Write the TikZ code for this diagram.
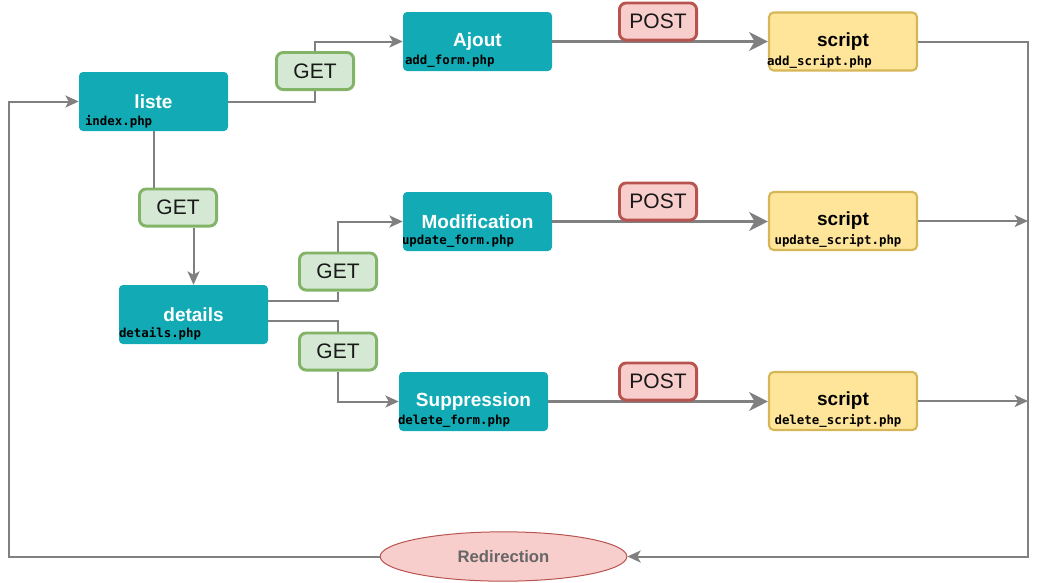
\documentclass[tikz,border=0pt]{standalone}
\usepackage{fontspec}
\setmainfont{Liberation Sans}
\newfontfamily\codefont{DejaVu Sans Mono}
\usetikzlibrary{arrows.meta,shapes.geometric}
\definecolor{boxteal}{HTML}{12AAB5}
\definecolor{getfill}{HTML}{D5E8D4}
\definecolor{getline}{HTML}{82B366}
\definecolor{postfill}{HTML}{F8CECC}
\definecolor{postline}{HTML}{B85450}
\definecolor{scriptfill}{HTML}{FFE599}
\definecolor{scriptline}{HTML}{D6B656}
\definecolor{edgegray}{HTML}{808080}
\definecolor{redirtext}{HTML}{666666}
\begin{document}
\begin{tikzpicture}[x=0.75pt,y=-0.75pt,
  pagebox/.style={fill=boxteal,rounded corners=3pt,minimum width=111.75pt,
    minimum height=44.25pt,text=white,font=\bfseries\fontsize{14.25}{16}\selectfont},
  scriptbox/.style={fill=scriptfill,draw=scriptline,line width=1.6pt,rounded corners=3.5pt,
    minimum width=111pt,minimum height=43.5pt,font=\bfseries\fontsize{14.25}{16}\selectfont},
  methodbox/.style={rounded corners=5pt,line width=2.2pt,minimum width=57.8pt,
    minimum height=27.8pt,inner sep=0pt,text=black!90,font=\fontsize{15.75}{18}\selectfont},
  getbox/.style={methodbox,fill=getfill,draw=getline},
  postbox/.style={methodbox,fill=postfill,draw=postline},
  filename/.style={inner sep=0pt,font=\codefont\bfseries\fontsize{9.3}{11}\selectfont},
  edgeline/.style={draw=edgegray,line width=1.5pt},
  edgearrow/.style={edgeline,-{Stealth[length=10pt,width=9pt,inset=2.5pt]}},
  sendarrow/.style={draw=edgegray,line width=2.8pt,-{Stealth[length=14pt,width=14pt,inset=4pt]}}]
\useasboundingbox (0,0) rectangle (1037,582);
% pages
\node[pagebox] (liste) at (153.5,101.5) {liste};
\node[pagebox] (ajout) at (477.5,41.5) {Ajout};
\node[pagebox] (details) at (193.5,314.5) {details};
\node[pagebox] (modif) at (477.5,221.5) {Modification};
\node[pagebox] (suppr) at (473.5,401.5) {Suppression};
\node[scriptbox] (scriptA) at (843,41.5) {script};
\node[scriptbox] (scriptM) at (843,221) {script};
\node[scriptbox] (scriptS) at (843,401) {script};
\node[filename,anchor=west] (listefile) at ([xshift=4.5pt,yshift=7.5pt]liste.south west) {index.php};
\node[filename,anchor=west] (ajoutfile) at ([xshift=1.5pt,yshift=7.5pt]ajout.south west) {add\_form.php};
\node[filename,anchor=west] (detailsfile) at ([yshift=8pt]details.south west) {details.php};
\node[filename,anchor=west] (modiffile) at ([xshift=-0.75pt,yshift=7.5pt]modif.south west) {update\_form.php};
\node[filename,anchor=west] (supprfile) at ([xshift=-0.75pt,yshift=7.5pt]suppr.south west) {delete\_form.php};
\node[filename,anchor=west] (scriptAfile) at ([xshift=-0.75pt,yshift=7.5pt]scriptA.south west) {add\_script.php};
\node[filename] (scriptMfile) at ([xshift=-3.75pt,yshift=7.5pt]scriptM.south) {update\_script.php};
\node[filename] (scriptSfile) at ([xshift=-3.75pt,yshift=7.5pt]scriptS.south) {delete\_script.php};
\node[ellipse,fill=postfill,draw=postline,line width=0.75pt,minimum width=185pt,minimum height=37pt,
  inner sep=0pt,text=redirtext,font=\bfseries\fontsize{12.5}{14}\selectfont] (redir) at (503.5,556.5) {Redirection};
% GET
\node[getbox] (getA) at (315,71) {GET};
\node[getbox] (getL) at (178,207.5) {GET};
\node[getbox] (getM) at (338,271.5) {GET};
\node[getbox] (getS) at (338,351.5) {GET};
\coordinate (rc) at (1028,556.5);
\coordinate (lc) at (9,556.5);
\draw[edgeline] (liste.east) -| (getA.south);
\draw[edgearrow] (getA.north) |- (ajout.west);
\draw[edgeline] (liste.south) -- (liste.south |- getL.north);
\draw[edgearrow] (details.north |- getL.south) -- (details.north);
\draw[edgeline] ([yshift=10.1pt]details.east) -| (getM.south);
\draw[edgearrow] (getM.north) |- (modif.west);
\draw[edgeline] ([yshift=-4.9pt]details.east) -| (getS.north);
\draw[edgearrow] (getS.south) |- (suppr.west);
% POST
\draw[sendarrow] (ajout.east) -- (scriptA.west);
\draw[sendarrow] (modif.east) -- (modif.east -| scriptM.west);
\draw[sendarrow] (suppr.east) -- (suppr.east -| scriptS.west);
\node[postbox] (postA) at (658,21.5) {POST};
\node[postbox] (postM) at (658,201.5) {POST};
\node[postbox] (postS) at (658,381.5) {POST};
% retour
\draw[edgearrow] (scriptA.east) -| (rc) -- (redir.east);
\draw[edgearrow] (scriptM.east) -- (scriptM.east -| rc);
\draw[edgearrow] (scriptS.east) -- (scriptS.east -| rc);
\draw[edgearrow] (redir.west) -- (lc) |- (liste.west);
\end{tikzpicture}
\end{document}
